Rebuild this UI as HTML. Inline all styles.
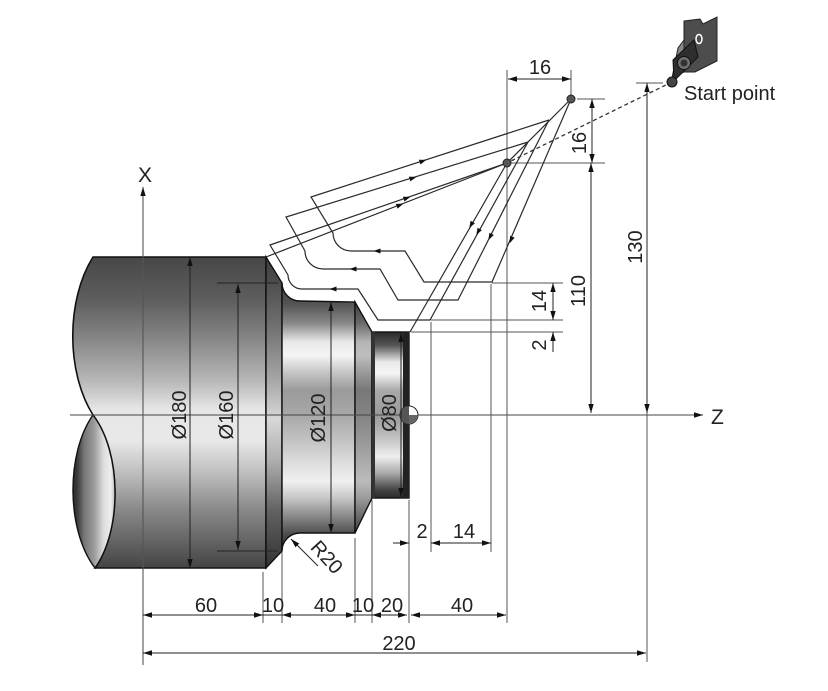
<!DOCTYPE html>
<html><head><meta charset="utf-8"><style>
html,body{margin:0;padding:0;background:#fff;}
svg{display:block;}
text{font-family:"Liberation Sans",Arial,sans-serif;fill:#222;}
</style></head><body>
<svg width="828" height="691" viewBox="0 0 828 691" xmlns="http://www.w3.org/2000/svg">
<defs>
<marker id="m" viewBox="0 0 10 6" refX="10" refY="3" markerWidth="9" markerHeight="6" markerUnits="userSpaceOnUse" orient="auto-start-reverse"><path d="M0,0L10,3L0,6z" fill="#111"/></marker>
<linearGradient id="gBig" gradientUnits="userSpaceOnUse" x1="0" y1="257" x2="0" y2="568">
<stop offset="0" stop-color="#474747"/><stop offset=".14" stop-color="#5e5e5e"/><stop offset=".26" stop-color="#858585"/><stop offset=".40" stop-color="#b8b8b8"/><stop offset=".49" stop-color="#e6e6e6"/><stop offset=".59" stop-color="#e8e8e8"/><stop offset=".69" stop-color="#c0c0c0"/><stop offset=".81" stop-color="#8a8a8a"/><stop offset=".93" stop-color="#5e5e5e"/><stop offset="1" stop-color="#444"/>
</linearGradient>
<linearGradient id="gBand" gradientUnits="userSpaceOnUse" x1="0" y1="257" x2="0" y2="568">
<stop offset="0" stop-color="#3a3a3a"/><stop offset=".2" stop-color="#6a6a6a"/><stop offset=".4" stop-color="#a8a8a8"/><stop offset=".52" stop-color="#d8d8d8"/><stop offset=".65" stop-color="#b0b0b0"/><stop offset=".82" stop-color="#606060"/><stop offset="1" stop-color="#333"/>
</linearGradient>
<linearGradient id="g120" gradientUnits="userSpaceOnUse" x1="0" y1="283" x2="0" y2="551">
<stop offset="0" stop-color="#3a3a3a"/><stop offset=".08" stop-color="#555"/><stop offset=".15" stop-color="#888"/><stop offset=".22" stop-color="#e8e8e8"/><stop offset=".27" stop-color="#f5f5f5"/><stop offset=".33" stop-color="#c8c8c8"/><stop offset=".40" stop-color="#9a9a9a"/><stop offset=".49" stop-color="#a8a8a8"/><stop offset=".58" stop-color="#c0c0c0"/><stop offset=".68" stop-color="#e0e0e0"/><stop offset=".74" stop-color="#f0f0f0"/><stop offset=".80" stop-color="#c8c8c8"/><stop offset=".88" stop-color="#808080"/><stop offset=".94" stop-color="#4a4a4a"/><stop offset="1" stop-color="#333"/>
</linearGradient>
<linearGradient id="g80" gradientUnits="userSpaceOnUse" x1="0" y1="332" x2="0" y2="498">
<stop offset="0" stop-color="#2a2a2a"/><stop offset=".08" stop-color="#555"/><stop offset=".18" stop-color="#e8e8e8"/><stop offset=".25" stop-color="#f5f5f5"/><stop offset=".35" stop-color="#aaa"/><stop offset=".5" stop-color="#9a9a9a"/><stop offset=".62" stop-color="#bbb"/><stop offset=".75" stop-color="#eee"/><stop offset=".85" stop-color="#aaa"/><stop offset=".95" stop-color="#444"/><stop offset="1" stop-color="#2a2a2a"/>
</linearGradient>
<linearGradient id="gLens" gradientUnits="userSpaceOnUse" x1="70" y1="0" x2="118" y2="0">
<stop offset="0" stop-color="#222"/><stop offset=".15" stop-color="#3a3a3a"/><stop offset=".3" stop-color="#777"/><stop offset=".5" stop-color="#9a9a9a"/><stop offset=".7" stop-color="#ddd"/><stop offset=".85" stop-color="#eee"/><stop offset="1" stop-color="#999"/>
</linearGradient>
</defs>

<!-- Part body -->
<path d="M93,257 L266,257 L266,568 L95,568 C122,530 122,453 93,415 C66,372 66,300 93,257 Z" fill="url(#gBig)" stroke="#111" stroke-width="1.6"/>
<path d="M93,415 C122,453 122,530 95,568 C66,530 66,453 93,415 Z" fill="url(#gLens)" stroke="#111" stroke-width="1.4"/>
<path d="M266,257 L282,283 L282,551 L266,568 Z" fill="url(#gBand)" stroke="#111" stroke-width="1.4"/>
<path d="M282,283 A18,18 0 0 0 300,301 L355,302 L355,533 L300,533 A18,18 0 0 0 282,551 Z" fill="url(#g120)" stroke="#111" stroke-width="1.4"/>
<path d="M355,302 L372,332 L372,498 L355,533 Z" fill="url(#g120)"/>
<path d="M355,302 L372,332 L372,498 L355,533 Z" fill="#000" fill-opacity="0.22" stroke="#111" stroke-width="1.4"/>
<rect x="372" y="332" width="37" height="166" fill="url(#g80)" stroke="#111" stroke-width="1.4"/>
<rect x="403" y="332" width="6" height="166" fill="#222"/>
<rect x="372" y="332" width="3" height="166" fill="#333"/>

<!-- Axes -->
<line x1="70" y1="415" x2="703" y2="415" stroke="#444" stroke-width="1.1" marker-end="url(#m)"/>
<line x1="143" y1="665" x2="143" y2="187" stroke="#555" stroke-width="1.1" marker-end="url(#m)"/>
<text x="145" y="182" font-size="21" text-anchor="middle">X</text>
<text x="711" y="424" font-size="21">Z</text>

<!-- origin symbol -->
<circle cx="409" cy="415" r="9" fill="#fff" stroke="#222" stroke-width="1"/>
<path d="M409,406 A9,9 0 0 0 409,424 Z" fill="#555"/>
<path d="M409,415 L418,415 A9,9 0 0 1 409,424 Z" fill="#666"/>

<!-- Diameter dims -->
<g stroke="#222" stroke-width="1">
<line x1="190" y1="257" x2="190" y2="568" marker-start="url(#m)" marker-end="url(#m)"/>
<line x1="238" y1="284" x2="238" y2="550" marker-start="url(#m)" marker-end="url(#m)"/>
<line x1="217" y1="283" x2="278" y2="283"/>
<line x1="217" y1="551" x2="278" y2="551"/>
<line x1="331" y1="302" x2="331" y2="533" marker-start="url(#m)" marker-end="url(#m)"/>
<line x1="401" y1="333" x2="401" y2="497" marker-start="url(#m)" marker-end="url(#m)"/>
</g>
<text transform="translate(179,415) rotate(-90)" x="0" y="7" font-size="20" text-anchor="middle">Ø180</text>
<text transform="translate(226,415) rotate(-90)" x="0" y="7" font-size="20" text-anchor="middle">Ø160</text>
<text transform="translate(318,418) rotate(-90)" x="0" y="7" font-size="20" text-anchor="middle">Ø120</text>
<text transform="translate(389,413) rotate(-90)" x="0" y="7" font-size="20" text-anchor="middle">Ø80</text>

<!-- R20 -->
<line x1="318" y1="566" x2="291" y2="539" stroke="#222" stroke-width="1" marker-end="url(#m)"/>
<text transform="translate(327,557) rotate(48)" x="0" y="7" font-size="20" text-anchor="middle">R20</text>

<!-- Extension lines -->
<g stroke="#555" stroke-width="1">
<line x1="263" y1="572" x2="263" y2="623"/>
<line x1="282" y1="552" x2="282" y2="623"/>
<line x1="355" y1="538" x2="355" y2="623"/>
<line x1="372" y1="500" x2="372" y2="623"/>
<line x1="409" y1="500" x2="409" y2="623"/>
<line x1="431" y1="322" x2="431" y2="552"/>
<line x1="491" y1="284" x2="491" y2="552"/>
<line x1="507" y1="70" x2="507" y2="623"/>
<line x1="571" y1="70" x2="571" y2="96"/>
<line x1="647" y1="413" x2="647" y2="662"/>
<line x1="577" y1="99" x2="605" y2="99"/>
<line x1="510" y1="163" x2="605" y2="163"/>
<line x1="636" y1="83" x2="663" y2="83"/>
<line x1="492" y1="283" x2="563" y2="283"/>
<line x1="431" y1="320" x2="563" y2="320"/>
<line x1="411" y1="332" x2="563" y2="332"/>
</g>

<!-- Dimension lines -->
<g stroke="#222" stroke-width="1">
<line x1="508" y1="79" x2="571" y2="79" marker-start="url(#m)" marker-end="url(#m)"/>
<line x1="592" y1="99" x2="592" y2="163" marker-start="url(#m)" marker-end="url(#m)"/>
<line x1="591" y1="163" x2="591" y2="413" marker-start="url(#m)" marker-end="url(#m)"/>
<line x1="647" y1="83" x2="647" y2="413" marker-start="url(#m)" marker-end="url(#m)"/>
<line x1="553" y1="283" x2="553" y2="320" marker-start="url(#m)" marker-end="url(#m)"/>
<line x1="553" y1="352" x2="553" y2="332" marker-end="url(#m)"/>
<line x1="393" y1="543" x2="409" y2="543" marker-end="url(#m)"/>
<line x1="431" y1="543" x2="491" y2="543" marker-start="url(#m)" marker-end="url(#m)"/>
<line x1="143" y1="615" x2="263" y2="615" marker-start="url(#m)" marker-end="url(#m)"/>
<line x1="263" y1="615" x2="282" y2="615"/>
<line x1="282" y1="615" x2="355" y2="615" marker-start="url(#m)" marker-end="url(#m)"/>
<line x1="355" y1="615" x2="372" y2="615"/>
<line x1="372" y1="615" x2="407" y2="615" marker-start="url(#m)" marker-end="url(#m)"/>
<line x1="411" y1="615" x2="506" y2="615" marker-start="url(#m)" marker-end="url(#m)"/>
<line x1="143" y1="653" x2="646" y2="653" marker-start="url(#m)" marker-end="url(#m)"/>
</g>

<!-- Dimension texts -->
<g font-size="20" text-anchor="middle">
<text x="540" y="74">16</text>
<text x="206" y="612">60</text>
<text x="273" y="612">10</text>
<text x="325" y="612">40</text>
<text x="363" y="612">10</text>
<text x="392" y="612">20</text>
<text x="462" y="612">40</text>
<text x="399" y="650">220</text>
<text x="422" y="538">2</text>
<text x="464" y="538">14</text>
<text transform="translate(579,143) rotate(-90)" x="0" y="7">16</text>
<text transform="translate(578,291) rotate(-90)" x="0" y="7">110</text>
<text transform="translate(635,247) rotate(-90)" x="0" y="7">130</text>
<text transform="translate(539,301) rotate(-90)" x="0" y="7">14</text>
<text transform="translate(539,345) rotate(-90)" x="0" y="7">2</text>
</g>

<!-- Tool paths -->
<g fill="none" stroke="#2a2a2a" stroke-width="1.2">
<path d="M571,99 L507,163"/>
<path d="M571,99 L492,282 L424,282 L405,251 L351,251 A18,18 0 0 1 333,233 L311,197 L549,120"/>
<path d="M549,120 L458,300 L398,300 L380,269 L323,269 A18,18 0 0 1 305,251 L286,217 L528,142"/>
<path d="M528,142 L430,320 L378,320 L358,289 L302,289 A14,14 0 0 1 288,275 L270,245 L507,163"/>
<path d="M507,163 L410,332"/>
<path d="M266,257 L507,163"/>
</g>
<line x1="672" y1="82" x2="507" y2="163" stroke="#333" stroke-width="1.3" stroke-dasharray="4,3"/>

<!-- path arrows -->
<g fill="#111">
<path d="M-3.5,-2.5 L3.5,0 L-3.5,2.5Z" transform="translate(511,240) rotate(113)"/>
<path d="M-3.5,-2.5 L3.5,0 L-3.5,2.5Z" transform="translate(490,237) rotate(117)"/>
<path d="M-3.5,-2.5 L3.5,0 L-3.5,2.5Z" transform="translate(478,232) rotate(119)"/>
<path d="M-3.5,-2.5 L3.5,0 L-3.5,2.5Z" transform="translate(471,225) rotate(120)"/>
<path d="M-3.5,-2.5 L3.5,0 L-3.5,2.5Z" transform="translate(377,251) rotate(180)"/>
<path d="M-3.5,-2.5 L3.5,0 L-3.5,2.5Z" transform="translate(353,269) rotate(180)"/>
<path d="M-3.5,-2.5 L3.5,0 L-3.5,2.5Z" transform="translate(333,289) rotate(180)"/>
<path d="M-3.5,-2.5 L3.5,0 L-3.5,2.5Z" transform="translate(423,161) rotate(-18)"/>
<path d="M-3.5,-2.5 L3.5,0 L-3.5,2.5Z" transform="translate(413,178) rotate(-17)"/>
<path d="M-3.5,-2.5 L3.5,0 L-3.5,2.5Z" transform="translate(407,198) rotate(-19)"/>
<path d="M-3.5,-2.5 L3.5,0 L-3.5,2.5Z" transform="translate(400,205) rotate(-21)"/>
</g>

<!-- points -->
<circle cx="571" cy="99" r="4" fill="#555" stroke="#222"/>
<circle cx="507" cy="163" r="4" fill="#555" stroke="#222"/>

<!-- Tool -->
<polygon points="684,21 700,19 703,24 717,17 717,61 695,72 684,72" fill="#4d4d4d" stroke="#222"/>
<polygon points="684,40 678,48 672,78 684,72" fill="#888" stroke="#222"/>
<polygon points="674,81 673,60 694,40 698,57" fill="#2e2e2e" stroke="#111"/>
<circle cx="684" cy="63" r="6.5" fill="#707070" stroke="#111"/>
<circle cx="684" cy="63" r="3.5" fill="#333"/>
<ellipse cx="699" cy="39" rx="3" ry="4.5" fill="none" stroke="#fff" stroke-width="1.5"/>
<circle cx="672" cy="82" r="5" fill="#444" stroke="#111"/>
<text x="684" y="100" font-size="20">Start point</text>
</svg>
</body></html>
